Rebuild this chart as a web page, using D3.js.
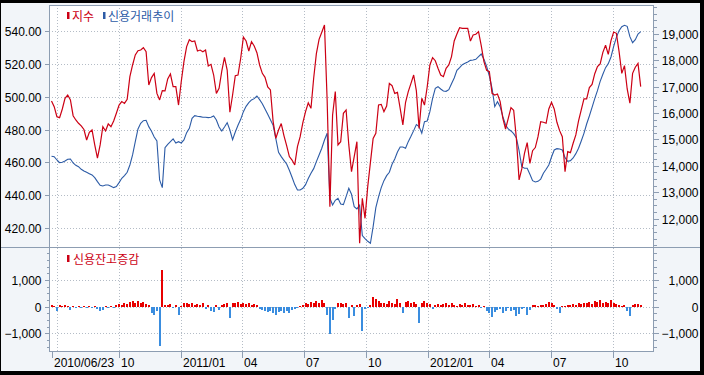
<!DOCTYPE html>
<html><head><meta charset="utf-8">
<script src="https://cdn.jsdelivr.net/npm/d3@7"></script>
<style>
html,body{margin:0;padding:0;background:#000;}
svg{display:block;}
text{font-family:"Liberation Sans",Arial,"Noto Sans CJK KR",sans-serif;font-size:12px;}
</style></head><body>
<svg id="c" width="704" height="375"></svg>
<script>
// ---- data ----
const startDate = "2010-06-23";
const stepDays = 4;
const indexValues = [
497.4,493.9,487.8,487.2,492.5,499.0,501.0,498.0,488.4,485.8,
483.8,482.2,480.0,473.6,478.3,479.7,470.6,462.5,470.6,481.7,
479.1,483.4,481.7,485.2,489.9,494.9,497.0,495.9,498.4,512.2,
519.3,525.4,528.0,528.4,529.8,527.4,507.1,511.6,514.2,502.0,
498.0,503.7,503.5,510.8,513.8,506.1,506.1,494.9,509.1,521.3,
530.5,534.7,533.5,533.9,527.8,528.4,527.4,528.4,518.7,519.7,
513.2,502.0,505.1,515.6,524.0,516.2,490.5,501.0,512.8,513.2,
523.4,536.3,533.9,527.8,533.5,530.9,526.8,519.3,514.2,511.8,
505.9,504.1,484.8,474.6,479.7,483.6,476.3,470.2,463.5,461.4,
458.4,469.6,475.6,484.2,490.9,496.2,492.9,511.2,526.2,534.9,
539.2,543.7,497.0,433.0,488.8,503.1,470.6,472.6,489.9,491.9,
470.6,454.3,463.5,472.6,410.7,438.1,425.9,445.2,460.0,474.6,
477.7,494.9,495.3,490.9,494.3,508.1,506.7,502.0,502.6,492.9,
482.8,496.6,503.1,508.1,513.2,503.5,480.7,499.0,494.9,505.9,
519.3,523.8,521.9,517.3,513.2,512.2,517.3,519.3,524.4,533.9,
538.2,542.0,541.6,541.6,541.6,533.9,537.6,538.0,539.6,531.1,
521.3,516.0,515.2,502.0,501.0,501.6,497.0,486.8,480.3,486.8,
493.3,491.7,474.6,449.3,456.0,465.5,472.0,459.4,467.1,469.0,
475.6,484.8,484.4,483.8,492.5,496.6,492.5,484.4,479.3,475.6,
454.3,466.5,465.9,471.6,476.7,485.2,491.9,498.6,498.6,505.5,
507.5,514.0,518.3,519.9,527.0,531.3,525.8,534.1,539.4,538.6,
527.4,514.2,518.9,504.7,496.0,514.2,517.9,520.3,506.1];
const creditValues = [
14361,14348,14222,14121,14134,14184,14247,14260,14109,14020,
13970,13870,13806,13756,13705,13655,13554,13402,13264,13239,
13277,13277,13226,13176,13214,13365,13529,13630,13756,14033,
14411,14916,15395,15610,15710,15723,15483,15307,15093,14941,
13466,13176,14690,14815,14916,15017,14866,14916,14866,14979,
15256,15420,15799,15900,15874,15862,15837,15836,15824,15836,
15887,15735,15470,15319,15470,15634,15357,14991,15281,15533,
15760,16051,16252,16391,16492,16542,16643,16504,16353,16151,
15950,15748,15533,15029,14512,14348,14209,14071,13831,13567,
13290,13088,13088,13151,13290,13517,13718,13894,14159,14411,
14664,14979,15231,12773,12520,12697,12773,12558,12533,12835,
13151,12924,12457,12369,12507,11360,11247,11146,11071,11701,
12419,12823,13176,13441,13630,13756,14058,14260,14525,14714,
14714,14664,14916,15118,15332,15559,15483,15231,15672,15698,
16051,16555,16933,16996,16908,16832,16820,16883,17110,17324,
17614,17715,17829,17879,17929,17992,18005,18030,18131,18232,
18030,17765,17400,16933,16240,16429,16240,15862,15546,15395,
15320,15218,15055,14575,13970,13907,13907,13680,13440,13390,
13415,13500,13718,13870,14033,14336,14600,14650,14637,14600,
14310,14172,14197,14298,14462,14664,14941,15231,15584,15887,
16215,16542,16845,17198,17463,17715,17866,18119,18522,18863,
19115,19266,19316,19279,18888,18661,18774,18989,19077];
const changeValues = [
60,40,-150,50,30,70,40,-120,30,-60,
40,-40,30,-50,20,-30,40,-100,-150,-120,
30,-60,40,-40,60,90,70,120,90,180,
210,150,220,130,170,90,60,-220,-300,-180,
-1470,1370,80,60,100,-50,50,-300,40,120,
150,90,140,80,100,60,120,-80,70,-150,
-200,50,-120,60,90,130,-420,150,120,160,
110,140,90,120,80,100,60,-80,-120,-150,
-200,-180,-250,-310,-200,-150,-220,-180,-250,-120,
-100,-60,40,80,130,110,160,120,200,150,
260,120,-300,-1030,-500,-80,120,150,100,140,
-440,80,-350,60,90,-900,-80,-50,60,350,
300,200,150,130,100,200,150,90,270,120,
-250,160,200,140,180,100,-620,120,230,150,
100,-80,80,110,60,90,140,50,120,70,
40,100,60,130,80,50,90,40,70,-60,
30,-150,-250,-380,-200,-120,-80,-220,-150,-60,
-180,-120,-350,-280,-100,-60,-330,-120,50,60,
30,80,50,100,160,120,70,-80,-220,40,
30,60,50,90,70,120,100,150,130,180,
110,210,160,250,140,190,120,240,150,100,
60,40,80,-150,-350,60,110,90,70];
const leftTicks = [420,440,460,480,500,520,540];
const rightTicks = [12000,13000,14000,15000,16000,17000,18000,19000];
const lowerTicks = [-1000,0,1000];
const xTickDates = ["2010-06-23","2010-10-01","2011-01-01","2011-04-01","2011-07-01","2011-10-01","2012-01-01","2012-04-01","2012-07-01","2012-10-01"];
const xTickLabels = ["2010/06/23","10","2011/01","04","07","10","2012/01","04","07","10"];
const gridDates = ["2010-07-01","2010-10-01","2011-01-01","2011-04-01","2011-07-01","2011-10-01","2012-01-01","2012-04-01","2012-07-01","2012-10-01"];
const legendTop = ["지수","신용거래추이"];
const legendBottom = "신용잔고증감";

// ---- build ----
const parse = d3.timeParse("%Y-%m-%d");
const start = parse(startDate);
const dates = indexValues.map((_, i) => d3.timeDay.offset(start, i * stepDays));
const rows = dates.map((d, i) => ({date: d, idx: indexValues[i], credit: creditValues[i], chg: changeValues[i]}));

const L = 49, R = 653, T1 = 5, B1 = 247, B2 = 351;
const x = d3.scaleTime().domain([parse("2010-06-23"), parse("2012-10-01")]).range([51.5, 613]);
const yL = d3.scaleLinear().domain([420, 540]).range([228, 31]);
const yR = d3.scaleLinear().domain([12000, 19000]).range([218.7, 33.7]);
const yB = d3.scaleLinear().domain([-1000, 1000]).range([333.3, 280]);

const svg = d3.select("#c");
const bg = "#f2f5f9", frame = "#8d9db2", grid = "#b4bcc6";

svg.append("rect").attr("width", 704).attr("height", 375).attr("fill", "#000");
svg.append("rect").attr("x", 1).attr("y", 3).attr("width", 699).attr("height", 368).attr("fill", bg);
svg.append("rect").attr("x", L).attr("y", T1).attr("width", R - L).attr("height", B2 - T1).attr("fill", "#fff");

const defs = svg.append("defs");
defs.append("clipPath").attr("id", "clipTop").append("rect").attr("x", L).attr("y", T1).attr("width", R - L).attr("height", B1 - T1);
defs.append("clipPath").attr("id", "clipBot").append("rect").attr("x", L).attr("y", B1).attr("width", R - L).attr("height", B2 - B1);

// gridlines
const gg = svg.append("g").attr("stroke", grid).attr("stroke-width", 1).attr("stroke-dasharray", "1,2").attr("shape-rendering", "crispEdges");
gg.selectAll(".hg").data(leftTicks).join("line")
  .attr("x1", L).attr("x2", R).attr("y1", d => Math.round(yL(d)) + 0.5).attr("y2", d => Math.round(yL(d)) + 0.5);
gg.selectAll(".hb").data(lowerTicks).join("line")
  .attr("x1", L).attr("x2", R).attr("y1", d => Math.round(yB(d)) + 0.5).attr("y2", d => Math.round(yB(d)) + 0.5);
gg.selectAll(".vg").data(gridDates).join("line")
  .attr("x1", d => Math.round(x(parse(d))) + 0.5).attr("x2", d => Math.round(x(parse(d))) + 0.5)
  .attr("y1", T1).attr("y2", B2);

// bars
svg.append("g").attr("clip-path", "url(#clipBot)").attr("shape-rendering", "crispEdges")
  .selectAll("rect").data(rows).join("rect")
  .attr("x", d => x(d.date) - 1).attr("width", 2)
  .attr("y", d => Math.min(yB(d.chg), yB(0)))
  .attr("height", d => Math.max(1, Math.abs(yB(d.chg) - yB(0))))
  .attr("fill", d => d.chg >= 0 ? "#e80000" : "#3a8ddf");

// lines
const gTop = svg.append("g").attr("clip-path", "url(#clipTop)");
gTop.append("path").datum(rows).attr("fill", "none").attr("stroke", "#2c5ba6").attr("stroke-width", 1.1)
  .attr("d", d3.line().x(d => x(d.date)).y(d => yR(d.credit)));
gTop.append("path").datum(rows).attr("fill", "none").attr("stroke", "#cc0014").attr("stroke-width", 1.2)
  .attr("stroke-linejoin", "miter").attr("stroke-miterlimit", 3)
  .attr("d", d3.line().x(d => x(d.date)).y(d => yL(d.idx)));

// frames
const fr = svg.append("g").attr("stroke", frame).attr("stroke-width", 1).attr("fill", "none").attr("shape-rendering", "crispEdges");
fr.append("rect").attr("x", L + 0.5).attr("y", T1 + 0.5).attr("width", R - L).attr("height", B2 - T1);
fr.append("line").attr("x1", 1).attr("x2", 700).attr("y1", B1 + 0.5).attr("y2", B1 + 0.5);

// axes
function styleAxis(g) {
  g.select(".domain").remove();
  g.attr("font-family", null).attr("font-size", null);
  g.selectAll("line").attr("stroke", frame).attr("shape-rendering", "crispEdges");
  g.selectAll("text").attr("fill", "#000").attr("dy", "0.38em");
}
svg.append("g").attr("transform", `translate(${L + 0.5},0)`)
  .call(d3.axisLeft(yL).tickValues(leftTicks).tickFormat(d3.format(".2f")).tickSize(5).tickPadding(3))
  .call(styleAxis);
svg.append("g").attr("transform", `translate(${L + 0.5},0)`)
  .call(d3.axisLeft(yB).tickValues(lowerTicks).tickFormat(d3.format(",")).tickSize(5).tickPadding(3))
  .call(styleAxis);
const rAx = svg.append("g").attr("transform", `translate(${R + 0.5},0)`)
  .call(d3.axisRight(yR).tickValues(rightTicks).tickFormat(d3.format(",")).tickSize(5))
  .call(styleAxis);
rAx.selectAll("text").attr("text-anchor", "end").attr("x", 45);
const rAx2 = svg.append("g").attr("transform", `translate(${R + 0.5},0)`)
  .call(d3.axisRight(yB).tickValues(lowerTicks).tickFormat(d3.format(",")).tickSize(5))
  .call(styleAxis);
rAx2.selectAll("text").attr("text-anchor", "end").attr("x", 45);

// minor ticks
const minorR = d3.range(11000, 20001, 250).filter(v => yR(v) > T1 && yR(v) < B1);
svg.append("g").attr("stroke", frame).attr("shape-rendering", "crispEdges")
  .selectAll("line").data(minorR).join("line")
  .attr("x1", R + 0.5).attr("x2", R + 3.5).attr("y1", d => Math.round(yR(d)) + 0.5).attr("y2", d => Math.round(yR(d)) + 0.5);
const minorB = d3.range(-1500, 2001, 250).filter(v => yB(v) > B1 + 2 && yB(v) < B2);
svg.append("g").attr("stroke", frame).attr("shape-rendering", "crispEdges")
  .selectAll("line").data(minorB).join("line")
  .attr("x1", R + 0.5).attr("x2", R + 3.5).attr("y1", d => Math.round(yB(d)) + 0.5).attr("y2", d => Math.round(yB(d)) + 0.5);
svg.append("g").attr("stroke", frame).attr("shape-rendering", "crispEdges")
  .selectAll("line").data(minorB).join("line")
  .attr("x1", L - 2.5).attr("x2", L + 0.5).attr("y1", d => Math.round(yB(d)) + 0.5).attr("y2", d => Math.round(yB(d)) + 0.5);

// x axis
const xa = svg.append("g");
xa.selectAll("line").data(xTickDates).join("line")
  .attr("x1", d => Math.round(x(parse(d))) + 0.5).attr("x2", d => Math.round(x(parse(d))) + 0.5)
  .attr("y1", B2 + 1).attr("y2", B2 + 7).attr("stroke", frame).attr("shape-rendering", "crispEdges");
xa.selectAll("text").data(xTickDates).join("text")
  .attr("x", d => Math.round(x(parse(d))) + 2).attr("y", 367)
  .attr("fill", "#000").text((d, i) => xTickLabels[i]);

// legends
const lg = svg.append("g");
lg.append("rect").attr("x", 67).attr("y", 12).attr("width", 2.5).attr("height", 7).attr("fill", "#cc0014");
lg.append("text").attr("x", 72).attr("y", 21).attr("fill", "#cc0014").text(legendTop[0]);
lg.append("rect").attr("x", 103).attr("y", 12).attr("width", 2.5).attr("height", 7).attr("fill", "#2c5ba6");
lg.append("text").attr("x", 108).attr("y", 21).attr("fill", "#2c5ba6").text(legendTop[1]);
lg.append("rect").attr("x", 67).attr("y", 255).attr("width", 2.5).attr("height", 7).attr("fill", "#cc0014");
lg.append("text").attr("x", 73).attr("y", 263.5).attr("fill", "#cc0014").text(legendBottom);
</script>
</body></html>
